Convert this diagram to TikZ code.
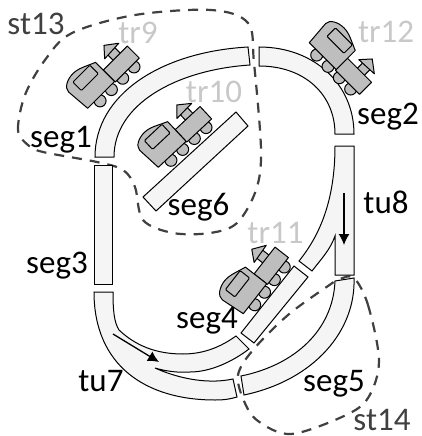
\documentclass[tikz,border=0pt]{standalone}
\usepackage{fontspec}
\setmainfont{Carlito}
\usetikzlibrary{arrows.meta}

\definecolor{trackfill}{HTML}{F5F5F5}
\definecolor{trainfill}{HTML}{BEBEBE}
\definecolor{stcolor}{HTML}{404040}
\definecolor{trcolor}{HTML}{C8C8C8}

\tikzset{
  tracksegment/.style={draw=black, fill=trackfill, line width=1pt, line join=miter},
  stregion/.style={draw=stcolor, line width=2.2pt, dash pattern=on 10pt off 8pt},
  seglabel/.style={anchor=base, inner sep=0pt, text=black, font=\fontsize{33}{33}\selectfont},
  stlabel/.style={anchor=base, inner sep=0pt, text=stcolor, font=\fontsize{33}{33}\selectfont},
  trlabel/.style={anchor=base, inner sep=0pt, text=trcolor, font=\fontsize{33}{33}\selectfont},
  direction/.style={draw=black, line width=1.3pt, -{Latex[length=11pt,width=11pt]}},
  trainpart/.style={draw=black, fill=trainfill, line width=1pt, line join=round},
  trainloco/.pic={
    % Wheels
    \foreach \wx in {14,30,46,62}
      \draw[trainpart] (\wx,3.5) circle (6);
    % Stack and head
    \draw[trainpart] (52,-15) rectangle (62,-24);
    \draw[trainpart] (47,-23) -- (68,-24) -- (56,-33) -- cycle;
    % Engine
    \draw[trainpart] (38,1) rectangle (72,-16);
    % Cab
    \draw[trainpart] (0,0) -- (38,0) -- (38,-27) .. controls (28,-31) and (22,-35) .. (14,-35)
      .. controls (6,-35) and (-2,-31) .. (-2,-25) -- cycle;
    \draw[trainpart, rounded corners=1pt] (8,-17) rectangle (32,-29);
  }
}

\begin{document}
\begin{tikzpicture}[x=1pt, y=-1pt]
  \useasboundingbox (0,0) rectangle (422,436);

  % Regions
  \draw[stregion] plot[smooth cycle, tension=0.55] coordinates {
    (28,145) (18,130) (25,95) (45,60) (72,33) (135,15) (211,10) (248,23) (254,63)
    (261,150) (256,190) (237,223) (210,233) (173,233) (143,220) (135,187) (123,170) (97,162) (43,152)};
  \draw[stregion] plot[smooth cycle, tension=0.55] coordinates {
    (354,278) (368,305) (379,361) (368,398) (344,416) (291,434) (258,421) (244,401) (238,375)
    (253,350) (288,315) (328,286) (340,279)};

  % Straight segments
  \draw[tracksegment] (94.4,165.4) rectangle (112.6,284);
  \draw[tracksegment] (143,197) -- (236,112) -- (248,126) -- (156,211) -- cycle;
  \draw[tracksegment] (241,333) -- (294,266) -- (308,277) -- (254,343) -- cycle;

  % Curved segments
  \draw[tracksegment] (95,157) .. controls (95,95) and (160,52) .. (248,47) -- (250,65)
    .. controls (175,70) and (114,105) .. (114,157) -- cycle;
  \draw[tracksegment] (259,47) .. controls (315,47) and (354,85) .. (354,134) -- (335,134)
    .. controls (335,95) and (305,66) .. (259,66) -- cycle;
  \draw[tracksegment] (335,281) -- (354,278) .. controls (356,330) and (315,380) .. (244,395)
    -- (241,376) .. controls (295,365) and (333,330) .. (335,281) -- cycle;

  % Turnouts
  \draw[tracksegment] (94,292) -- (113,292) .. controls (113,310) and (114,322) .. (119,330)
    .. controls (135,345) and (155,354) .. (183,354) .. controls (205,354) and (222,346) .. (236,336)
    -- (249,349) .. controls (232,362) and (210,372) .. (190,372)
    .. controls (178,373) and (165,371) .. (155,368) .. controls (175,377) and (205,385) .. (233,379)
    -- (237,397) .. controls (230,399) and (225,400) .. (215,400)
    .. controls (145,400) and (94,365) .. (94,292) -- cycle;
  \draw[tracksegment] (335,146) -- (354,146) -- (354,275) -- (335,275) -- (335,236)
    .. controls (330,250) and (322,258) .. (312,271) -- (299,261)
    .. controls (320,235) and (335,200) .. (335,146) -- cycle;

  % Directions
  \draw[direction] (344,193) -- (344,245);
  \draw[direction] (113,334) -- (159,362);

  % Trains
  \pic[rotate=45] at (87.7,108.3) {trainloco};
  \pic[rotate=43] at (158.3,167.3) {trainloco};
  \pic[rotate=52] at (243.3,313.7) {trainloco};
  \pic[rotate=-45] at (309.3,42.7) {trainloco};

  % Labels
  \node[seglabel] (seg1) at (61,147) {seg1};
  \node[seglabel] (seg2) at (388,124) {seg2};
  \node[seglabel] (seg3) at (57,273) {seg3};
  \node[seglabel] (seg4) at (207,328) {seg4};
  \node[seglabel] (seg5) at (334,391) {seg5};
  \node[seglabel] (seg6) at (198.5,215) {seg6};
  \node[seglabel] (tu7) at (101,391) {tu7};
  \node[seglabel] (tu8) at (386,213) {tu8};
  \node[stlabel] (st13) at (36,35) {st13};
  \node[stlabel] (st14) at (382,430) {st14};
  \node[trlabel] (tr9) at (138,44) {tr9};
  \node[trlabel] (tr10) at (214,102) {tr10};
  \node[trlabel] (tr11) at (275.5,243) {tr11};
  \node[trlabel] (tr12) at (386,42) {tr12};
\end{tikzpicture}
\end{document}
